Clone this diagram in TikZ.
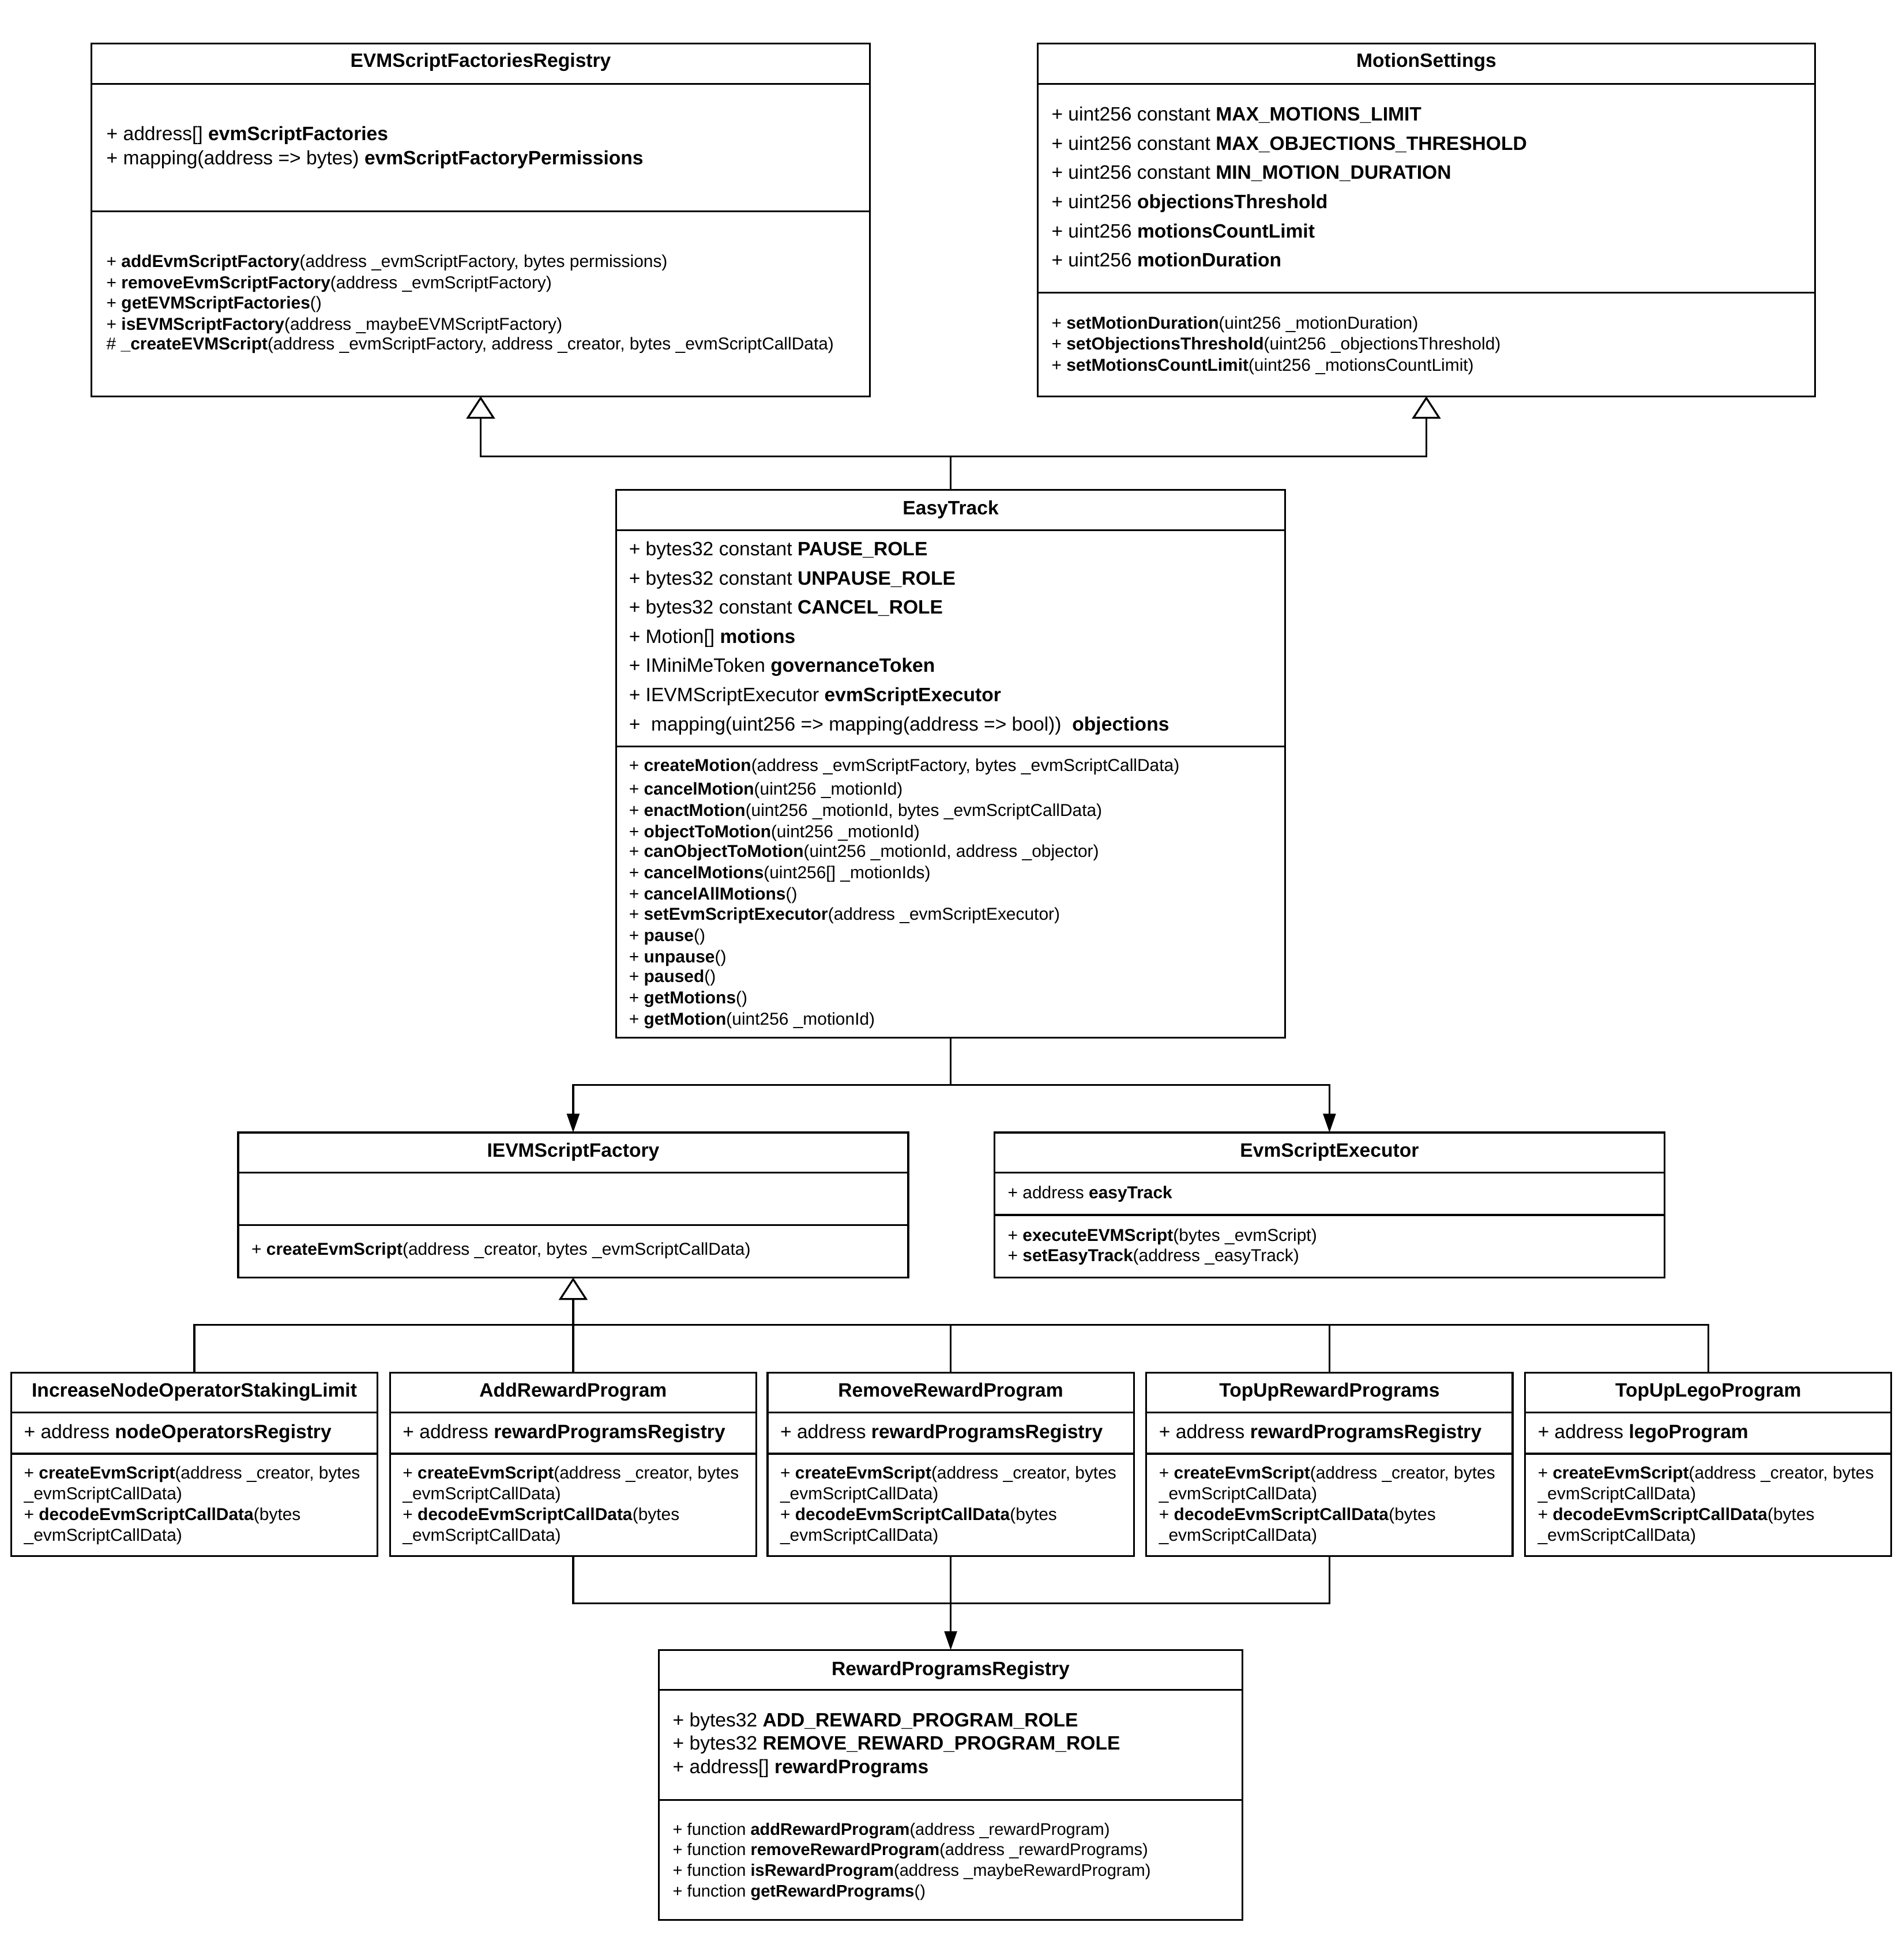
\documentclass[tikz,border=0pt]{standalone}
\usepackage{fontspec}
\setmainfont{Liberation Sans}
\usetikzlibrary{arrows.meta}
\definecolor{umlInk}{HTML}{000000}

\begin{document}
\begin{tikzpicture}[x=1pt,y=-1pt,text=umlInk,
  classbox/.style={draw=umlInk,line width=1.5pt,fill=white,inner sep=0pt,outer sep=0pt,anchor=north west},
  classrule/.style={draw=umlInk,line width=1.5pt},
  classname/.style={inner sep=0pt,text height=11.1pt,text depth=0pt,font=\bfseries\fontsize{15.5}{18}\selectfont},
  attrline/.style={anchor=west,inner sep=0pt,text height=11.1pt,text depth=0pt,font=\fontsize{15.5}{18}\selectfont},
  methline/.style={anchor=west,inner sep=0pt,text height=9.9pt,text depth=0pt,font=\fontsize{13.8}{16.6}\selectfont},
  wire/.style={draw=umlInk,line width=1.5pt},
  inherits/.style={wire,-{Triangle[open,length=18pt,width=23pt]}},
  calls/.style={wire,-{Triangle[length=15pt,width=10pt]}}]
  \fill[white] (0,0) rectangle (1522,1568);
  \path[use as bounding box] (0,0) rectangle (1522,1568);

  % EVMScriptFactoriesRegistry
  \node[classbox,minimum width=623pt,minimum height=282pt] (efr) at (73,35) {};
  \draw[classrule] (73,67) -- (696,67) (73,169) -- (696,169);
  \node[classname] (efr-t) at (384.5,48) {EVMScriptFactoriesRegistry};
  \node[attrline] (efr-a1) at (85,107) {+ address[] \textbf{evmScriptFactories}};
  \node[attrline] (efr-a2) at (85,126) {+ mapping(address => bytes) \textbf{evmScriptFactoryPermissions}};
  \foreach \y/\t [count=\i] in {
      209/{+ \textbf{addEvmScriptFactory}(address \_evmScriptFactory, bytes permissions)},
      226/{+ \textbf{removeEvmScriptFactory}(address \_evmScriptFactory)},
      242/{+ \textbf{getEVMScriptFactories}()},
      259/{+ \textbf{isEVMScriptFactory}(address \_maybeEVMScriptFactory)},
      275/{\# \textbf{\_createEVMScript}(address \_evmScriptFactory, address \_creator, bytes \_evmScriptCallData)}}
    {\node[methline] (efr-m\i) at (85,\y) {\t};}

  % MotionSettings
  \node[classbox,minimum width=622pt,minimum height=282pt] (ms) at (830,35) {};
  \draw[classrule] (830,67) -- (1452,67) (830,234) -- (1452,234);
  \node[classname] (ms-t) at (1141,48) {MotionSettings};
  \foreach \y/\t [count=\i] in {
      91/{+ uint256 constant \textbf{MAX\_MOTIONS\_LIMIT}},
      114.4/{+ uint256 constant \textbf{MAX\_OBJECTIONS\_THRESHOLD}},
      137.8/{+ uint256 constant \textbf{MIN\_MOTION\_DURATION}},
      161.2/{+ uint256 \textbf{objectionsThreshold}},
      184.6/{+ uint256 \textbf{motionsCountLimit}},
      208/{+ uint256 \textbf{motionDuration}}}
    {\node[attrline] (ms-a\i) at (841,\y) {\t};}
  \foreach \y/\t [count=\i] in {
      258/{+ \textbf{setMotionDuration}(uint256 \_motionDuration)},
      275/{+ \textbf{setObjectionsThreshold}(uint256 \_objectionsThreshold)},
      292/{+ \textbf{setMotionsCountLimit}(uint256 \_motionsCountLimit)}}
    {\node[methline] (ms-m\i) at (841,\y) {\t};}

  % EasyTrack
  \node[classbox,minimum width=535pt,minimum height=438pt] (easy) at (493,392) {};
  \draw[classrule] (493,424) -- (1028,424) (493,597) -- (1028,597);
  \node[classname] (easy-t) at (760.5,406) {EasyTrack};
  \foreach \y/\t [count=\i] in {
      439/{+ bytes32 constant \textbf{PAUSE\_ROLE}},
      462.3/{+ bytes32 constant \textbf{UNPAUSE\_ROLE}},
      485.7/{+ bytes32 constant \textbf{CANCEL\_ROLE}},
      509/{+ Motion[] \textbf{motions}},
      532.3/{+ IMiniMeToken \textbf{governanceToken}},
      555.7/{+ IEVMScriptExecutor \textbf{evmScriptExecutor}},
      579/{+\ \ mapping(uint256 => mapping(address => bool))\ \ \textbf{objections}}}
    {\node[attrline] (easy-a\i) at (503,\y) {\t};}
  \foreach \y/\t [count=\i] in {
      612/{+ \textbf{createMotion}(address \_evmScriptFactory, bytes \_evmScriptCallData)},
      631/{+ \textbf{cancelMotion}(uint256 \_motionId)},
      648/{+ \textbf{enactMotion}(uint256 \_motionId, bytes \_evmScriptCallData)},
      665/{+ \textbf{objectToMotion}(uint256 \_motionId)},
      681/{+ \textbf{canObjectToMotion}(uint256 \_motionId, address \_objector)},
      698/{+ \textbf{cancelMotions}(uint256[] \_motionIds)},
      715/{+ \textbf{cancelAllMotions}()},
      731/{+ \textbf{setEvmScriptExecutor}(address \_evmScriptExecutor)},
      748/{+ \textbf{pause}()},
      765/{+ \textbf{unpause}()},
      781/{+ \textbf{paused}()},
      798/{+ \textbf{getMotions}()},
      815/{+ \textbf{getMotion}(uint256 \_motionId)}}
    {\node[methline] (easy-m\i) at (503,\y) {\t};}

  % IEVMScriptFactory and EvmScriptExecutor
  \node[classbox,minimum width=536pt,minimum height=116pt] (iefs) at (190.5,906) {};
  \draw[classrule] (190.5,938) -- (726.5,938) (190.5,980) -- (726.5,980);
  \node[classname] (iefs-t) at (458.5,920) {IEVMScriptFactory};
  \node[methline] (iefs-m1) at (201,999) {+ \textbf{createEvmScript}(address \_creator, bytes \_evmScriptCallData)};

  \node[classbox,minimum width=536pt,minimum height=116pt] (exe) at (795.5,906) {};
  \draw[classrule] (795.5,938) -- (1331.5,938) (795.5,972) -- (1331.5,972);
  \node[classname] (exe-t) at (1063.5,920) {EvmScriptExecutor};
  \node[methline] (exe-a1) at (806,954) {+ address \textbf{easyTrack}};
  \node[methline] (exe-m1) at (806,988) {+ \textbf{executeEVMScript}(bytes \_evmScript)};
  \node[methline] (exe-m2) at (806,1004) {+ \textbf{setEasyTrack}(address \_easyTrack)};

  % EVM script factories
  \foreach \n/\x/\cname/\reg in {inc/9/IncreaseNodeOperatorStakingLimit/nodeOperatorsRegistry,
      add/312/AddRewardProgram/rewardProgramsRegistry,
      rem/614/RemoveRewardProgram/rewardProgramsRegistry,
      topup/917/TopUpRewardPrograms/rewardProgramsRegistry,
      lego/1220/TopUpLegoProgram/legoProgram} {
    \node[classbox,minimum width=293pt,minimum height=147pt] (\n) at (\x,1098) {};
    \draw[classrule] (\x,1130) -- ++(293,0) (\x,1163) -- ++(293,0);
    \node[classname] (\n-t) at ({\x+146.5},1112) {\cname};
    \node[attrline] (\n-a1) at ({\x+10},1145) {+ address \textbf{\reg}};
    \node[methline] (\n-m1) at ({\x+10},1178) {+ \textbf{createEvmScript}(address \_creator, bytes};
    \node[methline] (\n-m2) at ({\x+10},1194.7) {\_evmScriptCallData)};
    \node[methline] (\n-m3) at ({\x+10},1211.3) {+ \textbf{decodeEvmScriptCallData}(bytes};
    \node[methline] (\n-m4) at ({\x+10},1228) {\_evmScriptCallData)};
  }

  % RewardProgramsRegistry
  \node[classbox,minimum width=467pt,minimum height=216pt] (rpr) at (527,1320) {};
  \draw[classrule] (527,1352) -- (994,1352) (527,1440) -- (994,1440);
  \node[classname] (rpr-t) at (760.5,1335) {RewardProgramsRegistry};
  \foreach \y/\t [count=\i] in {
      1376/{+ bytes32 \textbf{ADD\_REWARD\_PROGRAM\_ROLE}},
      1394.5/{+ bytes32 \textbf{REMOVE\_REWARD\_PROGRAM\_ROLE}},
      1413/{+ address[] \textbf{rewardPrograms}}}
    {\node[attrline] (rpr-a\i) at (538,\y) {\t};}
  \foreach \y/\t [count=\i] in {
      1463/{+ function \textbf{addRewardProgram}(address \_rewardProgram)},
      1479.5/{+ function \textbf{removeRewardProgram}(address \_rewardPrograms)},
      1496/{+ function \textbf{isRewardProgram}(address \_maybeRewardProgram)},
      1512.5/{+ function \textbf{getRewardPrograms}()}}
    {\node[methline,font=\fontsize{13.4}{16}\selectfont] (rpr-m\i) at (538,\y) {\t};}

  % Connectors
  \coordinate (upBus) at (760.5,365);
  \draw[wire] (easy.north) -- (upBus);
  \draw[inherits] (upBus) -| (efr.south);
  \draw[inherits] (upBus) -| (ms.south);

  \coordinate (downBus) at (760.5,868);
  \draw[wire] (easy.south) -- (downBus);
  \draw[calls] (downBus) -| (iefs.north);
  \draw[calls] (downBus) -| (exe.north);

  \coordinate (rowBus) at (458.5,1060);
  \foreach \n in {inc,add,rem,topup,lego}
    {\draw[wire] (\n.north) |- (rowBus);}
  \draw[inherits] (rowBus) -- (iefs.south);

  \coordinate (regBus) at (760.5,1282.5);
  \draw[wire] (add.south) |- (regBus);
  \draw[wire] (topup.south) |- (regBus);
  \draw[calls] (rem.south) -- (rpr.north);
\end{tikzpicture}
\end{document}
